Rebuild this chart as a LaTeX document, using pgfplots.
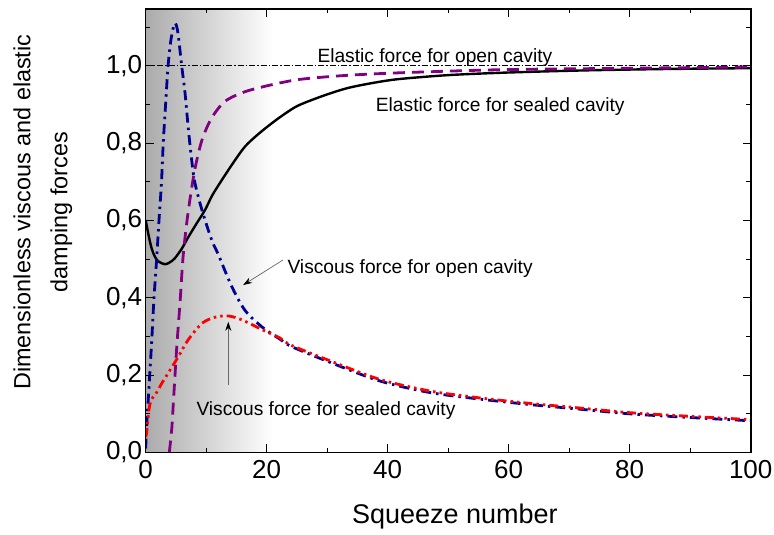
\documentclass[border=0pt]{standalone}
\usepackage{pgfplots}
\pgfplotsset{compat=1.18}
\usepackage{fontspec}
\setmainfont{Liberation Sans}
\usetikzlibrary{arrows.meta}
\definecolor{navyb}{RGB}{0,0,145}
\definecolor{purp}{RGB}{128,0,128}
\begin{document}
\begin{tikzpicture}
\begin{axis}[
  scale only axis,
  width=605pt, height=443.5pt,
  xmin=0, xmax=100, ymin=0, ymax=1.147,
  xtick={0,20,40,60,80,100},
  minor xtick={10,30,50,70,90},
  ytick={0,0.2,0.4,0.6,0.8,1.0},
  minor ytick={0.1,0.3,0.5,0.7,0.9,1.1},
  tick align=inside,
  major tick length=8pt, minor tick length=4.5pt,
  every tick/.style={line width=1.2pt, black},
  axis line style={line width=1.6pt},
  axis on top,
  /pgf/number format/assume math mode=true,
  yticklabel style={/pgf/number format/.cd, fixed, fixed zerofill, precision=1, use comma},
  ticklabel style={font=\fontsize{26}{30}\selectfont},
  xticklabel style={yshift=-4pt},
  xlabel={Squeeze number},
  xlabel style={font=\fontsize{27}{31}\selectfont, at={(axis description cs:0.511,-0.145)}, anchor=center},
  ylabel={Dimensionless viscous and elastic\\damping forces},
  ylabel style={font=\fontsize{23.4}{37}\selectfont, align=center, at={(axis description cs:-0.17,0.542)}, anchor=center},
  clip=true,
]
\fill[left color=black!33, right color=white] (axis cs:0,0) rectangle (axis cs:21,1.147);

% elastic force, open cavity (thin dash-dot)
\addplot[black, line width=0.8pt, dash pattern=on 6pt off 2pt on 1.5pt off 2pt] coordinates {(0,1) (100,1)};

% elastic force, sealed cavity
\addplot[black, line width=2.4pt, smooth] coordinates {
(0,0.601) (0.5,0.56) (1.0,0.527) (1.5,0.507) (2.1,0.494) (3.2,0.487) (4.0,0.492) (4.8,0.502) (6.0,0.528) (7.0,0.556) (8.4,0.592) (9.8,0.627) (11.0,0.665) (12.6,0.705) (14.5,0.75) (16.4,0.791) (18.5,0.822) (20.8,0.851) (23,0.876) (25.3,0.898) (29.6,0.924) (33.5,0.943) (38,0.957) (42,0.966) (50,0.976) (58.6,0.982) (67,0.986) (75,0.989) (87,0.992) (100,0.994)
};

% purple dashed
\addplot[purp, line width=2.8pt, dash pattern=on 12pt off 7pt, smooth] coordinates {
(3.9,0) (4.3,0.06) (4.6,0.136) (5.1,0.265) (5.7,0.394) (6.2,0.51) (7.0,0.62) (8.1,0.73) (9.3,0.808) (10.9,0.865) (13.1,0.908) (16.4,0.933) (20.8,0.951) (25.5,0.965) (32.9,0.975) (42,0.982) (58.6,0.99) (75,0.993) (100,0.997)
};

% viscous force, open cavity (navy dash-dot)
\addplot[navyb, line width=2.8pt, dash pattern=on 10pt off 5pt on 2.5pt off 5pt, smooth] coordinates {
(0,0.01) (0.15,0.067) (0.55,0.17) (1.0,0.29) (1.35,0.394) (1.8,0.498) (2.2,0.601) (2.6,0.696) (2.9,0.8) (3.3,0.903) (3.7,1.0) (4.2,1.07) (4.8,1.11) (5.3,1.088) (5.95,1.0) (6.5,0.93) (7.0,0.845) (7.5,0.77) (8.1,0.70) (9.3,0.627) (10.9,0.55) (12,0.512) (14.2,0.43) (16.4,0.368) (19.2,0.325) (22.2,0.293) (24.1,0.274) (30.5,0.233) (38.7,0.185) (47,0.155) (55.3,0.138) (63.5,0.124) (71.8,0.112) (80,0.1) (88.3,0.092) (100,0.082)
};

% viscous force, sealed cavity (red dash-dot-dot)
\addplot[red, line width=2.8pt, dash pattern=on 9pt off 4pt on 2.5pt off 4pt on 2.5pt off 4pt, smooth] coordinates {
(0,0.04) (0.15,0.05) (0.4,0.09) (0.7,0.125) (1.2,0.143) (1.8,0.155) (2.7,0.18) (3.7,0.205) (5.4,0.248) (7.0,0.291) (9.3,0.334) (11.5,0.35) (13.7,0.353) (15.9,0.343) (19.2,0.318) (22.2,0.296) (24.1,0.277) (30.5,0.237) (38.7,0.189) (47,0.159) (55.3,0.141) (63.5,0.127) (71.8,0.115) (80,0.103) (88.3,0.095) (100,0.085)
};

\node[font=\fontsize{19.2}{22}\selectfont, anchor=base] at (axis cs:47.8,1.008) {Elastic force for open cavity};
\node[font=\fontsize{19.2}{22}\selectfont] at (axis cs:58.6,0.896) {Elastic force for sealed cavity};
\node[font=\fontsize{19.2}{22}\selectfont] at (axis cs:43.7,0.477) {Viscous force for open cavity};
\node[font=\fontsize{19.2}{22}\selectfont] at (axis cs:29.8,0.108) {Viscous force for sealed cavity};

\draw[black!60, line width=0.7pt, -{Stealth[length=9pt,width=6pt,black]}] (axis cs:22.7,0.498) -- (axis cs:16.1,0.433);
\draw[black!60, line width=0.7pt, -{Stealth[length=9pt,width=6pt,black]}] (axis cs:13.65,0.175) -- (axis cs:13.65,0.338);

\coordinate (SW) at (rel axis cs:0,0);
\end{axis}
\pgfresetboundingbox
\path (SW) ++(-145.7pt,-82.5pt) rectangle ++(774pt,535pt);
\end{tikzpicture}
\end{document}
